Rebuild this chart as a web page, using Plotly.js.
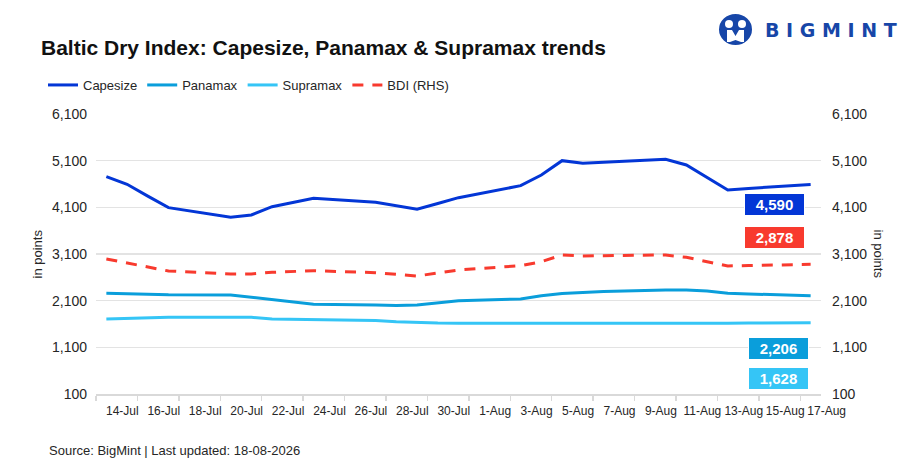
<!DOCTYPE html>
<html>
<head>
<meta charset="utf-8">
<script src="https://cdn.plot.ly/plotly-3.0.1.min.js"></script>
<style>
  html, body { margin:0; padding:0; background:#fff; }
  #chart { width:912px; height:471px; }
</style>
</head>
<body>
<div id="chart"></div>
<script>
// données (jours ouvrés)
const dates = ['2026-07-14','2026-07-15','2026-07-16','2026-07-17','2026-07-20','2026-07-21','2026-07-22',
  '2026-07-23','2026-07-24','2026-07-27','2026-07-28','2026-07-29','2026-07-30','2026-07-31',
  '2026-08-03','2026-08-04','2026-08-05','2026-08-06','2026-08-07','2026-08-10','2026-08-11',
  '2026-08-12','2026-08-13','2026-08-14','2026-08-17'];
const capesize = [4760,4594,4340,4093,3887,3936,4114,4204,4294,4208,4133,4058,4183,4307,
  4564,4793,5100,5044,5065,5130,5007,4740,4472,4505,4590];
const panamax = [2258,2245,2235,2225,2222,2170,2117,2070,2022,2007,1997,2007,2054,2100,
  2136,2207,2254,2280,2296,2329,2329,2307,2258,2243,2206];
const supramax = [1707,1720,1729,1744,1744,1744,1707,1700,1697,1675,1650,1628,1621,1617,
  1615,1615,1615,1613,1610,1610,1610,1612,1615,1622,1628];
const bdi = [2993,2907,2821,2736,2672,2672,2708,2725,2742,2700,2661,2629,2693,2757,
  2849,2935,3079,3057,3064,3079,3029,2929,2843,2854,2878];

const tickDates = ['2026-07-14','2026-07-16','2026-07-18','2026-07-20','2026-07-22','2026-07-24',
  '2026-07-26','2026-07-28','2026-07-30','2026-08-01','2026-08-03','2026-08-05','2026-08-07',
  '2026-08-09','2026-08-11','2026-08-13','2026-08-15','2026-08-17'];
const tickText = ['14-Jul','16-Jul','18-Jul','20-Jul','22-Jul','24-Jul','26-Jul','28-Jul','30-Jul',
  '1-Aug','3-Aug','5-Aug','7-Aug','9-Aug','11-Aug','13-Aug','15-Aug','17-Aug'];
const yTicks = [100,1100,2100,3100,4100,5100,6100];

const COL = {cape:'#0336d6', pana:'#0a9edb', supra:'#35c5f6', bdi:'#f83a2e'};
const FONT = 'Liberation Sans, Arial, sans-serif';
const last = a => a[a.length-1];
const fmt = v => v.toLocaleString('en-US');

// zone de tracé en pixels -> coordonnées papier
const PL = 96, PR = 821, PT = 114, PB = 394;
const px = x => (x - PL) / (PR - PL);
const py = y => (PB - y) / (PB - PT);

const traces = [
  {x:dates, y:capesize, name:'Capesize', mode:'lines', line:{color:COL.cape, width:3}},
  {x:dates, y:panamax, name:'Panamax', mode:'lines', line:{color:COL.pana, width:3}},
  {x:dates, y:supramax, name:'Supramax', mode:'lines', line:{color:COL.supra, width:3}},
  {x:dates, y:bdi, name:'BDI (RHS)', mode:'lines', yaxis:'y2', line:{color:COL.bdi, width:3, dash:'11px,9px'}}
];

function box(val, color, x, y){
  return {xref:'paper', yref:'paper', x:px(x), y:py(y), xanchor:'center', yanchor:'middle',
    text:'<b>'+fmt(val)+'</b>', showarrow:false, font:{family:FONT, size:15, color:'#fff'},
    bgcolor:color, bordercolor:'#fff', borderwidth:1, width:57, height:19, borderpad:1};
}

const layout = {
  width:912, height:471,
  margin:{l:PL, r:912-PR, t:PT, b:471-PB},
  paper_bgcolor:'#fff', plot_bgcolor:'#fff',
  font:{family:FONT, size:13, color:'#262626'},
  showlegend:true,
  title:{text:'<b>Baltic Dry Index: Capesize, Panamax &amp; Supramax trends</b>',
    xref:'container', yref:'container', x:41/912, xanchor:'left', y:1-48/471, yanchor:'middle',
    font:{family:FONT, size:21, color:'#111'}},
  legend:{orientation:'h', xref:'container', yref:'container', x:43/912, y:1-70/471, yanchor:'top',
    xanchor:'left', font:{family:FONT, size:13, color:'#262626'}, itemwidth:30, tracegroupgap:0,
    bgcolor:'rgba(0,0,0,0)'},
  xaxis:{type:'date', range:['2026-07-13 12:00','2026-08-17 12:00'],
    tickvals:tickDates, ticktext:tickText, ticks:'', tickangle:0, ticklabelshift:16, ticklabelstandoff:5,
    tickfont:{family:FONT, size:12, color:'#262626'},
    showgrid:false, showline:true, linecolor:'#d9d9d9', linewidth:1.5, zeroline:false,
    minor:{ticks:'outside', ticklen:5, tickcolor:'#d9d9d9', tickwidth:1.5,
      tick0:'2026-07-13 12:00', dtick:2*86400000, showgrid:false}},
  yaxis:{range:[100,6100], tickvals:yTicks, tickformat:',d', ticks:'', ticklabelstandoff:8,
    showgrid:true, gridcolor:'#e3e3e3', gridwidth:1.5, zeroline:false, showline:false,
    tickfont:{family:FONT, size:14, color:'#262626'}},
  yaxis2:{range:[100,6100], tickvals:yTicks, tickformat:',d', ticks:'', ticklabelstandoff:10,
    overlaying:'y', side:'right', showgrid:false, zeroline:false, showline:false,
    tickfont:{family:FONT, size:14, color:'#262626'}},
  annotations:[
    box(last(capesize), COL.cape, 774, 204),
    box(last(bdi), COL.bdi, 774, 237),
    box(last(panamax), COL.pana, 778, 348),
    box(last(supramax), COL.supra, 778, 378),
    {xref:'paper', yref:'paper', x:px(27), y:py(254), text:'in points', textangle:-90, showarrow:false,
      font:{family:FONT, size:13, color:'#262626'}},
    {xref:'paper', yref:'paper', x:px(888), y:py(254), text:'in points', textangle:90, showarrow:false,
      font:{family:FONT, size:13, color:'#262626'}},
    {xref:'paper', yref:'paper', x:px(47), y:py(450), xanchor:'left', yanchor:'middle',
      text:'Source: BigMint | Last updated: 18-08-2026', showarrow:false,
      font:{family:FONT, size:13, color:'#262626'}},
    // logo
    {xref:'paper', yref:'paper', x:px(763), y:py(30), xanchor:'left', yanchor:'middle',
      text:'<b>B I G M I N T</b>', showarrow:false,
      font:{family:'DejaVu Sans, Liberation Sans, sans-serif', size:19, color:'#1746a8'}}
  ],
  shapes:[
    {type:'circle', xref:'paper', yref:'paper', x0:px(719), x1:px(752), y0:py(45), y1:py(14),
      fillcolor:'#1746a8', line:{width:0}},
    {type:'circle', xref:'paper', yref:'paper', x0:px(725), x1:px(733), y0:py(28), y1:py(20),
      fillcolor:'#fff', line:{width:0}},
    {type:'circle', xref:'paper', yref:'paper', x0:px(738), x1:px(746), y0:py(28), y1:py(20),
      fillcolor:'#fff', line:{width:0}},
    {type:'path', xref:'paper', yref:'paper',
      path:'M '+px(727)+','+py(30)+' L '+px(732)+','+py(30)+' L '+px(735.5)+','+py(36)+' L '+px(739)+','+py(30)+
        ' L '+px(744)+','+py(30)+' L '+px(744)+','+py(42)+' L '+px(741)+','+py(42)+' L '+px(735.5)+','+py(40)+
        ' L '+px(730)+','+py(42)+' L '+px(727)+','+py(42)+' Z',
      fillcolor:'#fff', line:{width:0}}
  ]
};

Plotly.newPlot('chart', traces, layout, {displayModeBar:false, staticPlot:true});
</script>
</body>
</html>
